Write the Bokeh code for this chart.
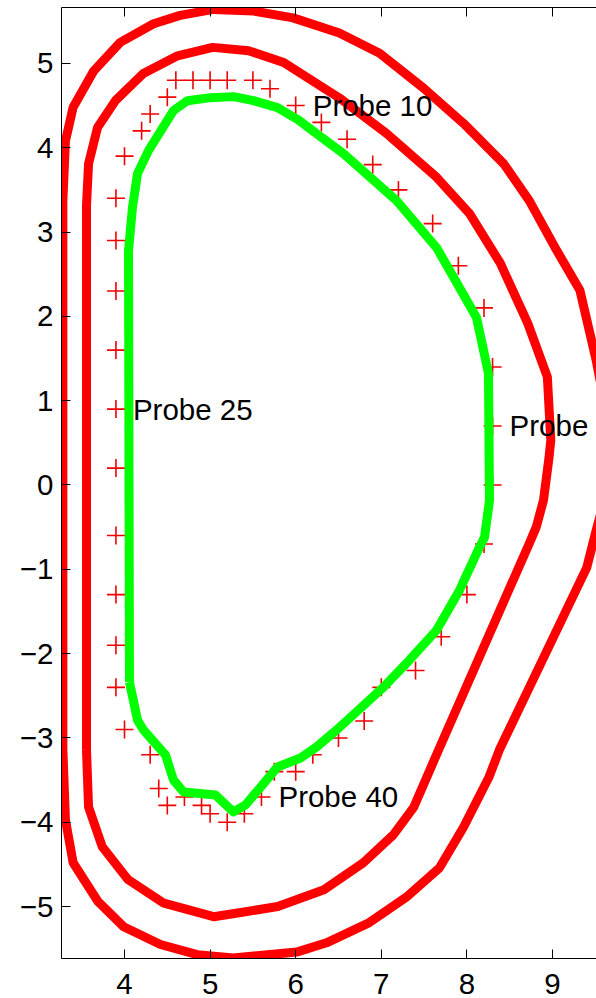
from bokeh.plotting import figure
from bokeh.models import FixedTicker, LinearAxis, Range1d
from bokeh.embed import file_html
from bokeh.resources import INLINE
from bokeh.core.properties import value

# Outer limiter contour (R, Z in metres)
outer_r = [3.28, 3.28, 3.31, 3.40, 3.64, 3.95, 4.34, 4.65, 5.04, 5.51, 5.97, 6.51,
           6.98, 7.49, 7.96, 8.43, 8.73, 9.05, 9.32, 9.51, 9.62, 9.65, 9.60, 9.51,
           9.40, 8.38, 8.26, 7.96, 7.68, 7.29, 6.86, 6.36, 6.01, 5.27, 4.85, 4.42,
           3.99, 3.69, 3.40, 3.31, 3.28]
outer_z = [-3.14, 3.37, 4.08, 4.48, 4.91, 5.25, 5.47, 5.57, 5.64, 5.62, 5.54, 5.36,
           5.12, 4.71, 4.29, 3.81, 3.37, 2.78, 2.31, 1.48, 0.90, 0.40, -0.20, -0.54,
           -0.98, -3.14, -3.46, -4.06, -4.54, -4.89, -5.19, -5.43, -5.54, -5.61, -5.57, -5.45,
           -5.24, -4.94, -4.48, -3.97, -3.14]

# Inner vessel contour
inner_r = [3.556, 3.556, 3.58, 3.685, 3.895, 4.22, 4.62, 5.03, 5.45, 5.86, 6.51,
           7.06, 7.645, 8.03, 8.39, 8.71, 8.94, 8.98, 8.96, 8.895, 8.81, 8.73, 7.67,
           7.38, 7.14, 6.79, 6.33, 5.79, 5.36, 5.04, 4.46, 4.04, 3.74, 3.58, 3.556]
inner_z = [-3.14, 3.31, 3.81, 4.24, 4.56, 4.88, 5.09, 5.19, 5.15, 5.01, 4.59,
           4.17, 3.65, 3.22, 2.63, 1.92, 1.28, 0.53, 0.33, -0.18, -0.50, -0.69, -3.14,
           -3.82, -4.15, -4.48, -4.80, -5.00, -5.07, -5.12, -4.96, -4.68, -4.29, -3.82, -3.14]

# Plasma boundary
plasma_r = [4.058, 4.047, 4.093, 4.152, 4.28, 4.572, 4.736, 5.005, 5.273, 5.507,
            5.787, 6.03, 6.243, 6.558, 7.178, 7.645, 7.879, 8.112, 8.252, 8.264,
            8.206, 8.147, 7.914, 7.645, 7.329, 7.026, 6.734, 6.477, 6.243, 6.056,
            5.787, 5.414, 5.273, 5.063, 4.689, 4.572, 4.479, 4.222, 4.152, 4.058]
plasma_z = [-2.338, 2.781, 3.29, 3.693, 3.966, 4.44, 4.558, 4.594, 4.606, 4.558,
            4.475, 4.33, 4.167, 3.93, 3.373, 2.816, 2.402, 1.987, 1.324, -0.181,
            -0.619, -0.738, -1.248, -1.722, -2.077, -2.397, -2.669, -2.906, -3.108, -3.238,
            -3.345, -3.795, -3.878, -3.677, -3.641, -3.499, -3.202, -2.906, -2.788, -2.338]

# Magnetic probe positions, probe 1 .. 51
probe_r = [8.3, 8.3, 8.2, 7.9, 7.6, 7.2, 6.9, 6.6, 6.3, 6.0,
           5.7, 5.5, 5.2, 5.0, 4.8, 4.6, 4.5, 4.3, 4.2, 4.0,
           3.9, 3.9, 3.9, 3.9, 3.9, 3.9, 3.9, 3.9, 3.9, 3.9,
           4.0, 4.3, 4.4, 4.5, 4.7, 4.9, 5.0, 5.2, 5.4, 5.6,
           5.75, 6.0, 6.2, 6.5, 6.8, 7.0, 7.4, 7.7, 8.0, 8.2, 8.3]
probe_z = [0.7, 1.4, 2.1, 2.6, 3.1, 3.5, 3.8, 4.1, 4.3, 4.5,
           4.7, 4.8, 4.8, 4.8, 4.8, 4.8, 4.6, 4.4, 4.2, 3.9,
           3.4, 2.9, 2.3, 1.6, 0.9, 0.2, -0.6, -1.3, -1.9, -2.4,
           -2.9, -3.2, -3.6, -3.8, -3.7, -3.8, -3.9, -4.0, -3.9, -3.7,
           -3.4, -3.4, -3.2, -3.0, -2.8, -2.4, -2.2, -1.8, -1.3, -0.7, 0.0]

labelled_probes = [1, 10, 25, 40]

x_ticks = [4, 5, 6, 7, 8, 9]
y_ticks = [-5, -4, -3, -2, -1, 0, 1, 2, 3, 4, 5]

FONT = "Liberation Sans"
FONT_SIZE = "29.5px"

p = figure(width=596, height=998, output_backend="svg", toolbar_location=None,
           x_range=Range1d(3.264, 9.514), y_range=Range1d(-5.616, 5.663),
           min_border_left=61, min_border_right=0, min_border_top=7,
           min_border_bottom=40)
p.outline_line_color = None
p.grid.visible = False
p.background_fill_color = "white"
p.border_fill_color = "white"


def style_axis(ax, ticks, show_labels=True):
    ax.ticker = FixedTicker(ticks=ticks)
    ax.major_tick_in = 9
    ax.major_tick_out = 0
    ax.minor_tick_line_color = None
    ax.axis_line_color = "black"
    ax.axis_line_width = 1
    ax.major_tick_line_color = "black"
    ax.major_tick_line_width = 1
    ax.major_label_text_font = FONT
    ax.major_label_text_font_size = FONT_SIZE
    if show_labels:
        ax.major_label_text_color = "black"
        ax.major_label_overrides = {t: (str(t).replace("-", "\u2212")) for t in ticks}
    else:
        # box edge with ticks only, no labels
        ax.major_label_text_color = None
        ax.major_label_standoff = 0


style_axis(p.xaxis[0], x_ticks)
p.xaxis[0].major_label_standoff = 15
style_axis(p.yaxis[0], y_ticks)
p.yaxis[0].major_label_standoff = 8

top_axis = LinearAxis()
style_axis(top_axis, x_ticks, show_labels=False)
p.add_layout(top_axis, "above")

# Contours
p.line(outer_r, outer_z, line_width=9, color="#ff0000", line_join="round")
p.line(inner_r, inner_z, line_width=9, color="#ff0000", line_join="round")

# Probes
p.scatter(probe_r, probe_z, marker="cross", size=18, line_width=1.6, color="#f00000")

# Plasma boundary
p.line(plasma_r, plasma_z, line_width=9, color="#00ff00", line_join="round")

# Probe labels
lab_r = [probe_r[i - 1] for i in labelled_probes]
lab_z = [probe_z[i - 1] for i in labelled_probes]
lab_t = ["Probe %d" % i for i in labelled_probes]
p.text(x=lab_r, y=lab_z, text=lab_t, x_offset=17, text_baseline="middle",
       text_align="left", text_font=value(FONT), text_font_size=FONT_SIZE,
       text_color="black")

open("out.html", "w").write(file_html(p, INLINE))
